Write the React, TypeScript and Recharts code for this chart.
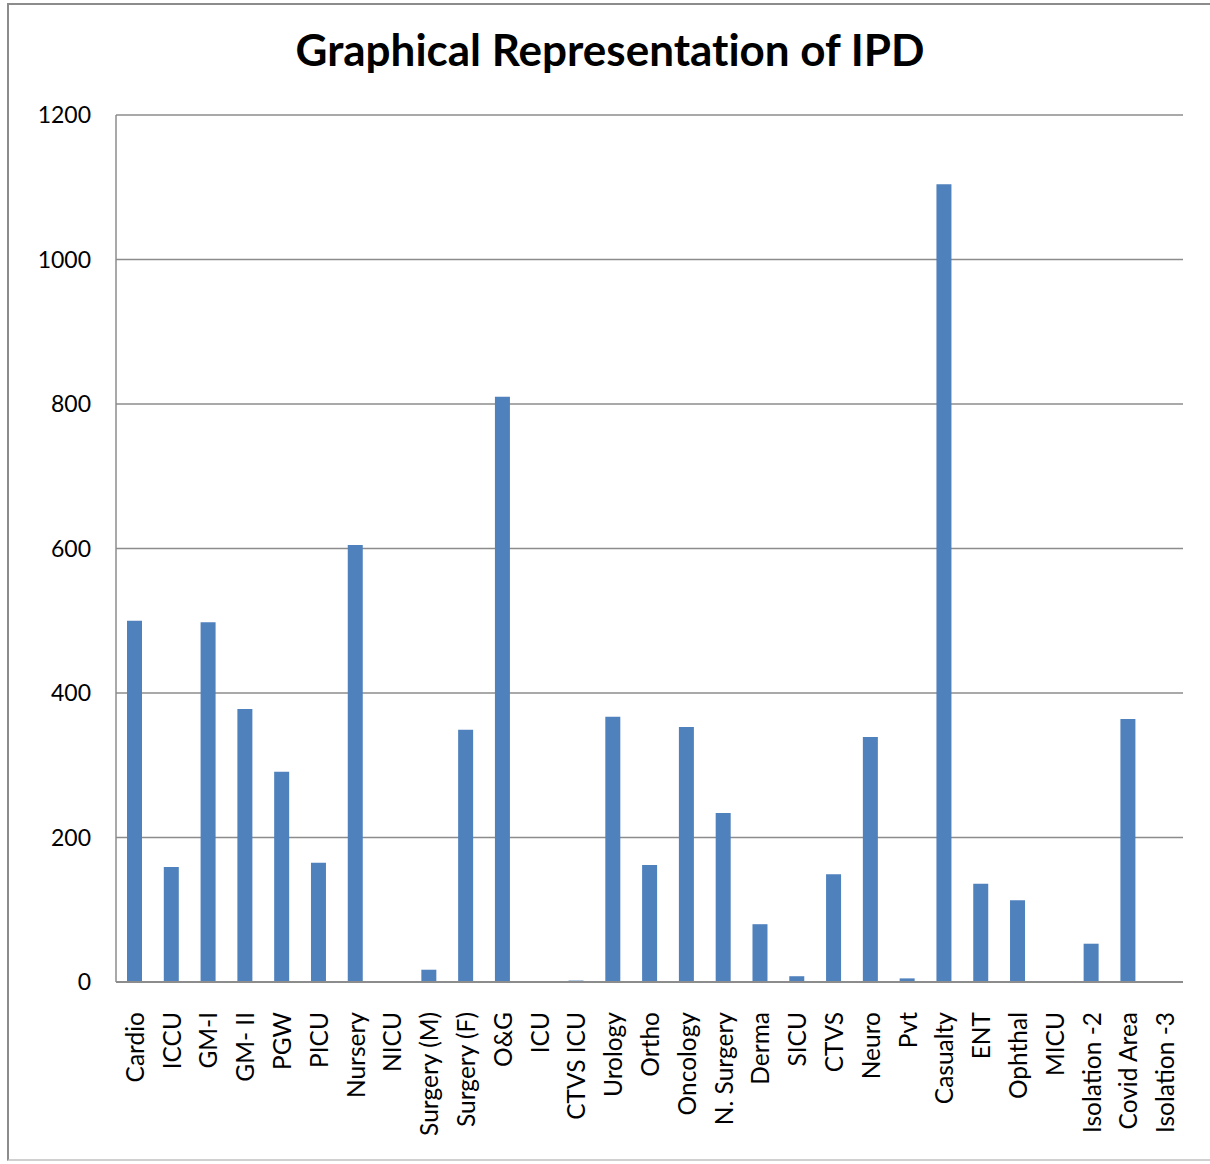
import React from "react";
import { BarChart, Bar, XAxis, YAxis, CartesianGrid } from "recharts";

// wards, in the order they appear on the x axis
const wards = [
  "Cardio", "ICCU", "GM-I", "GM- II", "PGW", "PICU", "Nursery", "NICU",
  "Surgery (M)", "Surgery (F)", "O&G", "ICU", "CTVS ICU", "Urology", "Ortho",
  "Oncology", "N. Surgery", "Derma", "SICU", "CTVS", "Neuro", "Pvt",
  "Casualty", "ENT", "Ophthal", "MICU", "Isolation -2", "Covid Area", "Isolation -3",
];

// IPD counts per ward
const ipdCounts = [
  500, 159, 498, 378, 291, 165, 605, 0,
  17, 349, 810, 0, 2, 367, 162,
  353, 234, 80, 8, 149, 339, 5,
  1104, 136, 113, 0, 53, 364, 0,
];

const yTicks = [0, 200, 400, 600, 800, 1000, 1200];

const data = wards.map((ward, i) => ({ ward, count: ipdCounts[i] }));

const FONT = "Lato, 'Open Sans', sans-serif";

const WardTick = ({ x, y, payload }: any) => (
  <text
    x={0}
    y={0}
    transform={`translate(${x},${y + 22}) rotate(-90)`}
    textAnchor="end"
    dominantBaseline="central"
    fontFamily={FONT}
    fontSize={24.5}
    fill="#000"
  >
    {payload.value}
  </text>
);

export default function App() {
  return (
    <div style={{ position: "absolute", left: 0, top: 0, width: 1210, height: 1164, background: "#fff", overflow: "hidden" }}>
      {/* outer chart frame */}
      <div
        style={{
          position: "absolute",
          left: 7,
          top: 3,
          width: 1220,
          height: 1158,
          border: "2px solid #8c8c8c",
          borderBottomColor: "#d0d0d0",
          boxSizing: "border-box",
        }}
      />
      <div
        style={{
          position: "absolute",
          left: 0,
          top: 23,
          width: 1220,
          textAlign: "center",
          fontFamily: FONT,
          fontWeight: 700,
          fontSize: 44,
          fontVariantLigatures: "none",
          color: "#000",
        }}
      >
        Graphical Representation of IPD
      </div>
      <div style={{ position: "absolute", left: 0, top: 0 }}>
        <BarChart
          width={1210}
          height={1164}
          data={data}
          margin={{ top: 115, right: 27, left: 16, bottom: 12 }}
          barCategoryGap={0}
        >
          <CartesianGrid vertical={false} stroke="#8c8c8c" strokeWidth={1.5} />
          <XAxis
            dataKey="ward"
            interval={0}
            height={170}
            tick={<WardTick />}
            tickLine={false}
            axisLine={{ stroke: "#8c8c8c", strokeWidth: 2 }}
          />
          <YAxis
            width={100}
            domain={[0, 1200]}
            ticks={yTicks}
            tickLine={false}
            axisLine={{ stroke: "#8c8c8c", strokeWidth: 1.5 }}
            tickMargin={19}
            tick={{ fill: "#000", fontSize: 23, fontFamily: FONT }}
          />
          <Bar dataKey="count" fill="#4f81bd" barSize={15} isAnimationActive={false} />
        </BarChart>
      </div>
    </div>
  );
}
